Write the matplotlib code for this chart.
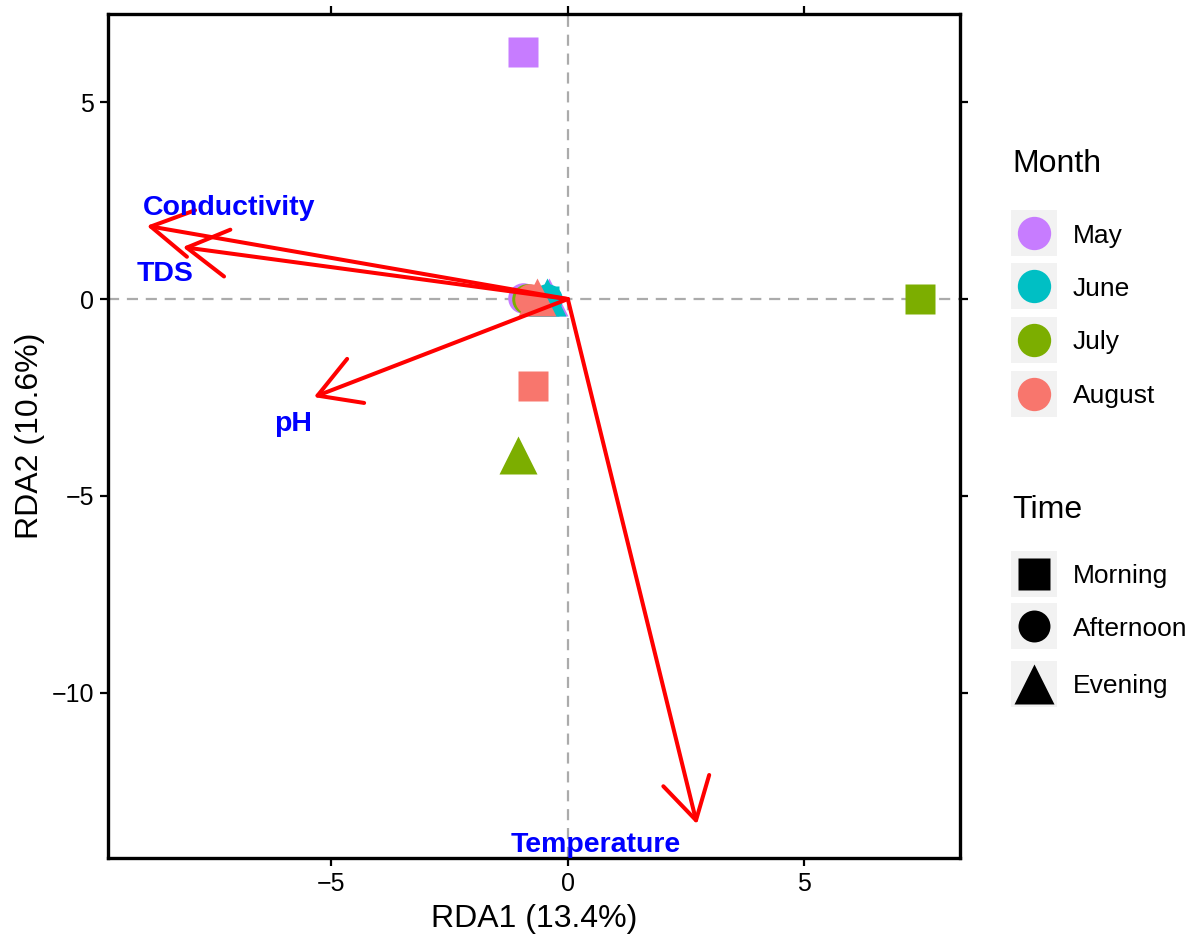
import matplotlib
matplotlib.use("Agg")
import matplotlib.pyplot as plt
from matplotlib.patches import Rectangle

plt.rcParams['font.family'] = ['Liberation Sans', 'DejaVu Sans']

# site scores on the first two RDA axes
months = ['May', 'June', 'July', 'August']
times = ['Morning', 'Afternoon', 'Evening']
site_month = ['May', 'July', 'August', 'July',
              'May', 'May', 'July', 'June', 'June', 'June', 'August', 'August']
site_time = ['Morning', 'Morning', 'Morning', 'Evening',
             'Afternoon', 'Evening', 'Afternoon', 'Morning', 'Afternoon', 'Evening', 'Afternoon', 'Evening']
rda1 = [-0.95, 7.44, -0.74, -1.06, -0.95, -0.40, -0.87, -0.50, -0.45, -0.44, -0.80, -0.66]
rda2 = [6.28, 0.00, -2.21, -3.96, 0.02, 0.06, 0.00, -0.05, 0.00, 0.05, 0.00, 0.05]

# environmental variable loadings (arrow tips) and label spots
env_vars = ['Conductivity', 'TDS', 'pH', 'Temperature']
env_rda1 = [-8.90, -8.14, -5.37, 2.73]
env_rda2 = [1.86, 1.32, -2.49, -13.34]
lab_rda1 = [-7.15, -8.52, -5.81, 0.59]
lab_rda2 = [2.39, 0.71, -3.10, -13.80]

month_col = {'May': '#C77CFF', 'June': '#00BFC4', 'July': '#7CAE00', 'August': '#F8766D'}
time_mk = {'Morning': 's', 'Afternoon': 'o', 'Evening': '^'}
mk_size = {'s': 22, 'o': 22, '^': 28}

fig = plt.figure(figsize=(12, 9.36), dpi=100)
ax = fig.add_axes([0.09, 0.0833, 0.71, 0.9017])

ax.axhline(0, color='#ABABAB', lw=1.6, ls=(0, (5, 3.5)), zorder=1)
ax.axvline(0, color='#ABABAB', lw=1.6, ls=(0, (5, 3.5)), zorder=1)

for m, t, x, y in zip(site_month, site_time, rda1, rda2):
    mk = time_mk[t]
    ax.plot(x, y, marker=mk, ms=mk_size[mk], color=month_col[m], mec='none', ls='none', zorder=3)

for name, x, y, lx, ly in zip(env_vars, env_rda1, env_rda2, lab_rda1, lab_rda2):
    ax.annotate('', xy=(x, y), xytext=(0, 0),
                arrowprops=dict(arrowstyle='->,head_length=1.47,head_width=0.85',
                                color='red', lw=2.9, mutation_scale=20,
                                shrinkA=0, shrinkB=0), zorder=4)
    ax.text(lx, ly, name, color='blue', fontsize=20.5, fontweight='bold',
            ha='center', va='center_baseline', zorder=5)

ax.set_xlim(-9.72, 8.29)
ax.set_ylim(-14.2, 7.24)
ax.set_xticks([-5, 0, 5])
ax.set_yticks([-10, -5, 0, 5])
ax.tick_params(direction='out', length=6, width=1.6, labelsize=18, pad=4,
               top=True, right=True, colors='black')
for s in ax.spines.values():
    s.set_linewidth(2.4)

ax.set_xlabel('RDA1 (13.4%)', fontsize=23, va='center')
ax.xaxis.set_label_coords(0.5, -0.072)
ax.set_ylabel('RDA2 (10.6%)', fontsize=23, va='center')
ax.yaxis.set_label_coords(-0.092, 0.5)

# legend panel drawn in figure pixels
lax = fig.add_axes([0, 0, 1, 1], zorder=-1)
lax.set_xlim(0, 1200)
lax.set_ylim(936, 0)
lax.axis('off')

def legend_block(title, title_y, entries, centers, draw):
    lax.text(1012, title_y, title, fontsize=23, ha='left', va='center_baseline')
    for lab, cy in zip(entries, centers):
        lax.add_patch(Rectangle((1011, cy - 23), 46, 46, facecolor='#F2F2F2', edgecolor='none'))
        draw(lab, 1034, cy)
        lax.text(1073, cy, lab, fontsize=19, ha='left', va='center_baseline')

legend_block('Month', 161, months, [233, 286, 340, 394],
             lambda lab, x, y: lax.plot(x, y, 'o', ms=24, color=month_col[lab], mec='none'))
legend_block('Time', 506, times, [574, 626, 684],
             lambda lab, x, y: lax.plot(x, y, time_mk[lab], ms=mk_size[time_mk[lab]] + 1,
                                        color='black', mec='none'))

fig.savefig('out.png', dpi=100)
